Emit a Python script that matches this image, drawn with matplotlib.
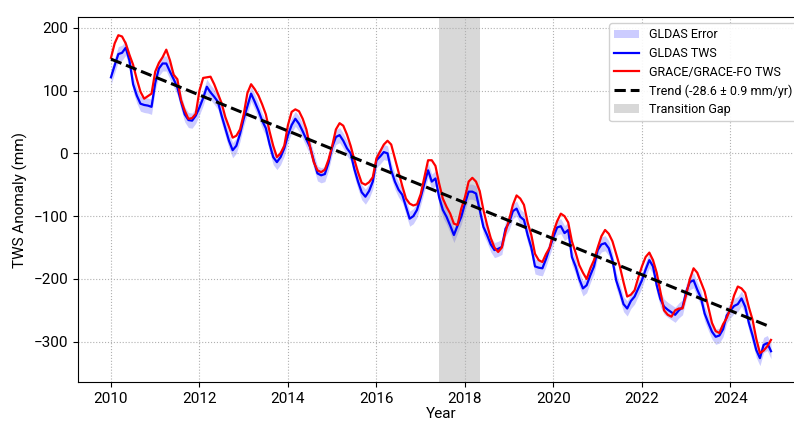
import numpy as np
import matplotlib
matplotlib.use("Agg")
import matplotlib.pyplot as plt

plt.rcParams['font.family'] = ['Roboto', 'DejaVu Sans']

# ---------------- data (monthly, Jan 2010 - Dec 2024) ----------------
start_year = 2010
grace_tws = [
    152, 175, 188, 186, 175, 157, 141, 118, 98, 87, 91, 95,            # 2010
    130, 144, 153, 165, 148, 125, 118, 85, 68, 55, 56, 63,             # 2011
    100, 120, 121, 122, 110, 95, 80, 58, 42, 25, 28, 38,               # 2012
    62, 96, 110, 102, 92, 78, 62, 35, 12, -6, 0, 12,                   # 2013
    45, 66, 70, 67, 55, 38, 10, -14, -27, -30, -26, -10,               # 2014
    12, 38, 48, 44, 30, 12, -10, -30, -47, -50, -46, -38,              # 2015
    -8, 3, 14, 20, 14, -8, -30, -52, -72, -80, -83, -81,               # 2016
    -65, -38, -11, -11, -20, -48, -72, -85, -96, -112, -114, -88,      # 2017
    -70, -45, -39, -45, -60, -90, -114, -135, -150, -157, -150, -125,  # 2018
    -105, -82, -67, -72, -82, -110, -130, -160, -170, -173, -160, -150,  # 2019
    -125, -108, -96, -100, -110, -140, -158, -178, -190, -200, -183, -170,  # 2020
    -150, -132, -122, -128, -140, -160, -180, -205, -228, -225, -218, -198,  # 2021
    -180, -165, -158, -170, -190, -220, -250, -257, -260, -250, -247, -247,  # 2022
    -225, -200, -183, -190, -205, -220, -245, -270, -283, -286, -272, -262,  # 2023
    -247, -226, -212, -215, -222, -245, -265, -295, -318, -314, -307, -297,  # 2024
]
gldas_tws = [
    121, 140, 158, 160, 168, 148, 110, 92, 79, 77, 76, 74,             # 2010
    112, 135, 143, 143, 130, 118, 105, 82, 62, 53, 52, 60,             # 2011
    73, 88, 106, 97, 90, 82, 60, 40, 20, 5, 12, 31,                    # 2012
    55, 75, 95, 82, 68, 52, 40, 15, -6, -14, -6, 8,                    # 2013
    29, 45, 55, 47, 35, 22, 10, -12, -32, -35, -33, -15,               # 2014
    10, 26, 29, 20, 8, 0, -25, -45, -62, -69, -60, -45,                # 2015
    -11, -5, 2, 0, -27, -45, -58, -66, -85, -104, -100, -90,           # 2016
    -70, -48, -27, -45, -40, -70, -90, -101, -115, -130, -115, -101,   # 2017
    -80, -61, -61, -64, -90, -117, -130, -145, -154, -152, -149, -120,  # 2018
    -110, -92, -88, -101, -106, -130, -150, -180, -182, -183, -168, -150,  # 2019
    -133, -118, -116, -127, -122, -165, -180, -200, -215, -210, -194, -180,  # 2020
    -154, -145, -143, -151, -170, -202, -220, -240, -247, -235, -228, -215,  # 2021
    -202, -185, -170, -180, -210, -232, -244, -249, -253, -257, -250, -245,  # 2022
    -220, -205, -202, -217, -230, -255, -270, -284, -292, -290, -280, -258,  # 2023
    -250, -243, -240, -231, -244, -270, -290, -313, -326, -305, -302, -315,  # 2024
]
gldas_err = 12            # mm, half-width of GLDAS error band
trend_rate = -28.6        # mm/yr
trend_rate_err = 0.9
trend_start_value = 150   # mm at first month
gap_start, gap_end = 2017.42, 2018.33
x_ticks = [2010, 2012, 2014, 2016, 2018, 2020, 2022, 2024]
y_ticks = [-300, -200, -100, 0, 100, 200]

# ---------------- derived ----------------
grace = np.array(grace_tws, dtype=float)
gldas = np.array(gldas_tws, dtype=float)
t = start_year + np.arange(len(grace)) / 12.0
trend = trend_start_value + trend_rate * (t - t[0])

# ---------------- plot ----------------
fig = plt.figure(figsize=(7.94, 4.23), dpi=100)
ax = fig.add_axes([0.0982, 0.0969, 0.9144, 0.8629])

ax.fill_between(t, gldas - gldas_err, gldas + gldas_err, color='blue', alpha=0.2,
                linewidth=0, label='GLDAS Error')
ax.plot(t, gldas, color='blue', lw=1.6, label='GLDAS TWS')
ax.plot(t, grace, color='red', lw=1.6, label='GRACE/GRACE-FO TWS')
ax.plot(t, trend, color='black', lw=2.2, ls='--',
        label=f'Trend ({trend_rate} ± {trend_rate_err} mm/yr)')
ax.axvspan(gap_start, gap_end, color='gray', alpha=0.3, lw=0, label='Transition Gap')

ax.set_ylim(-364, 217)
ax.set_xticks(x_ticks)
ax.set_yticks(y_ticks)
ax.tick_params(labelsize=11)
ax.set_xlabel('Year', fontsize=11, labelpad=1)
ax.set_ylabel('TWS Anomaly (mm)', fontsize=11)
ax.grid(True, ls=':', color='#b0b0b0', lw=0.8)

ax.legend(loc='upper right', fontsize=9, framealpha=0.9, labelspacing=0.45)

fig.savefig('out.png', dpi=100)
